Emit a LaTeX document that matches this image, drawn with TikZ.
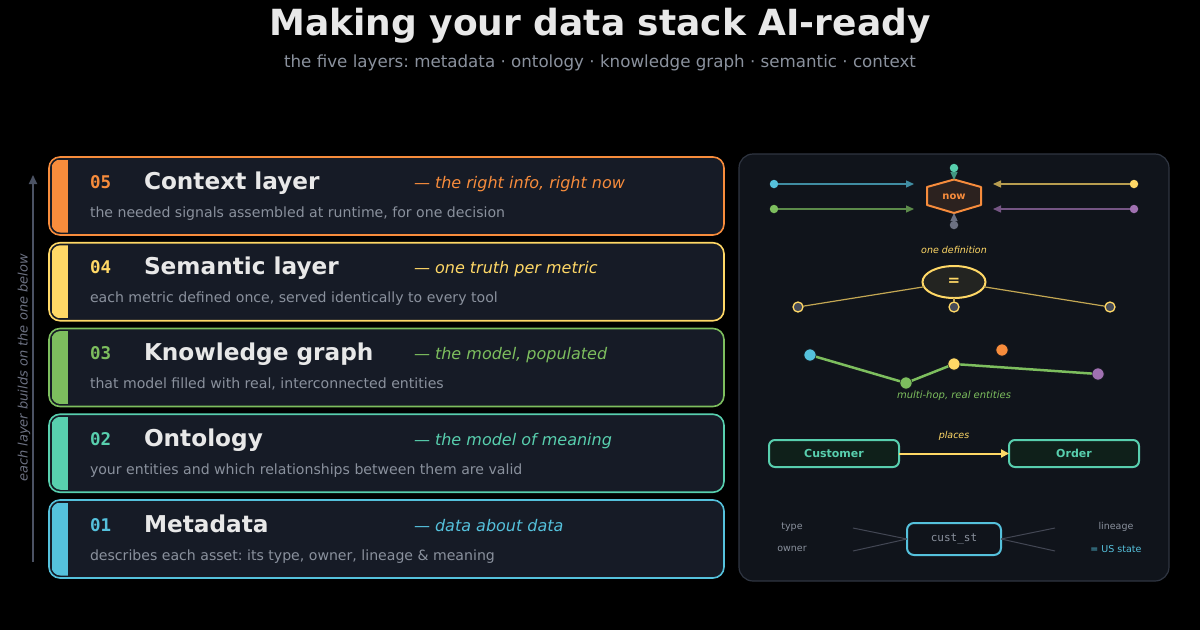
\documentclass[tikz,border=0pt]{standalone}
\usepackage{xcolor}
\usepackage{fontspec}
\setmainfont{DejaVu Sans}
\setmonofont{DejaVu Sans Mono}
\usepackage{tikz}
\usetikzlibrary{arrows.meta,positioning,shapes.geometric}

\definecolor{bgcard}{HTML}{161B26}
\definecolor{bgpanel}{HTML}{10141B}
\definecolor{edgepanel}{HTML}{2F3541}
\definecolor{txtmain}{HTML}{E8E8E8}
\definecolor{txtdim}{HTML}{8A919D}
\definecolor{axisgrey}{HTML}{4B5263}
\definecolor{boxteal}{HTML}{0F201A}
\definecolor{cOrange}{HTML}{F78C3C}
\definecolor{cYellow}{HTML}{FFD866}
\definecolor{cGreen}{HTML}{7DBE5E}
\definecolor{cTeal}{HTML}{58CFAE}
\definecolor{cBlue}{HTML}{55C1DC}
\definecolor{cPurple}{HTML}{A071B1}
\definecolor{cGrey}{HTML}{6C7182}

\newcommand{\pxsize}[1]{\fontsize{#1}{#1}\selectfont}
\frenchspacing

\begin{document}
\begin{tikzpicture}[x=1pt, y=-1pt,
  every node/.style={inner sep=0pt, outer sep=0pt},
  card/.style={rectangle, rounded corners=11pt, fill=bgcard, line width=1.6pt,
    minimum width=675pt, minimum height=78pt},
  numtxt/.style={anchor=base west, font=\ttfamily\bfseries\pxsize{17.5}},
  ttltxt/.style={anchor=base west, font=\bfseries\pxsize{23.2}, text=txtmain},
  tagtxt/.style={anchor=base west, font=\itshape\pxsize{16}},
  desctxt/.style={anchor=base west, font=\pxsize{14.1}, text=txtdim},
  dot/.style={circle, minimum size=8.5pt},
  kgdot/.style={circle, minimum size=12.5pt, draw=bgpanel, line width=1pt},
  feed/.style={line width=1.3pt, -{Triangle[length=8pt,width=7pt]}},
  small/.style={font=\itshape\pxsize{9.5}}]

  % background
  \fill[black] (0,0) rectangle (1200,630);
  \useasboundingbox (0,0) rectangle (1200,630);

  % title
  \node[anchor=base, font=\bfseries\pxsize{36}, text=txtmain] (title) at (600,35.5)
    {Making your data stack AI-ready};
  \node[anchor=base, font=\pxsize{16.7}, text=txtdim] (subtitle) at (600,67)
    {the five layers: metadata · ontology · knowledge graph · semantic · context};

  % layer cards
  \foreach \num/\ttl/\tagline/\desc/\col [count=\i from 0] in {
    05/Context layer/{the right info, right now}/{the needed signals assembled at runtime, for one decision}/cOrange,
    04/Semantic layer/one truth per metric/{each metric defined once, served identically to every tool}/cYellow,
    03/Knowledge graph/{the model, populated}/{that model filled with real, interconnected entities}/cGreen,
    02/Ontology/the model of meaning/your entities and which relationships between them are valid/cTeal,
    01/Metadata/data about data/{describes each asset: its type, owner, lineage \& meaning}/cBlue}{
    \pgfmathsetmacro\cardtop{157+85.75*\i}
    \node[card, draw=\col] (card\num) at (386.5,\cardtop+39) {};
    \begin{scope}
      \clip[rounded corners=9pt] (51.5,\cardtop+2.5) rectangle (724,\cardtop+75.5);
      \fill[\col] (51.5,\cardtop+2.5) rectangle (68,\cardtop+75.5);
    \end{scope}
    \node[numtxt, text=\col] (num\num) at (90,\cardtop+31) {\num};
    \node[ttltxt] (ttl\num) at (144,\cardtop+32) {\ttl};
    \node[tagtxt, text=\col] (tag\num) at (414,\cardtop+31) {— \tagline};
    \node[desctxt] (desc\num) at (90,\cardtop+60) {\desc};
  }

  % build-up axis
  \coordinate (axbot) at (33,562);
  \coordinate (axtop) at (33,175);
  \draw[axisgrey, line width=2pt, -{Triangle[length=9pt,width=8pt]}] (axbot) -- (axtop);
  \node[rotate=90, font=\itshape\pxsize{13}, text=cGrey] (axlabel) at (24,368)
    {each layer builds on the one below};

  % right panel
  \node[rectangle, rounded corners=14pt, fill=bgpanel, draw=edgepanel, line width=1.2pt,
    minimum width=430pt, minimum height=427pt] (panel) at (954,367.5) {};

  % context: signals into "now"
  \fill[fill=cOrange!12!bgpanel] (954,179.5) -- (981,187) -- (981,205) -- (954,213)
    -- (927,205) -- (927,187) -- cycle;
  \draw[cOrange, line width=2pt, line join=round] (954,179.5) -- (981,187) -- (981,205)
    -- (954,213) -- (927,205) -- (927,187) -- cycle;
  \node[font=\bfseries\pxsize{10}, text=cOrange] (now) at (954,196.5) {now};
  \node[dot, fill=cBlue] (sa) at (774,184) {};
  \node[dot, fill=cGreen] (sb) at (774,209) {};
  \node[dot, fill=cYellow] (sc) at (1134,184) {};
  \node[dot, fill=cPurple] (sd) at (1134,209) {};
  \node[dot, fill=cTeal] (se) at (954,168) {};
  \node[dot, fill=cGrey] (sf) at (954,225) {};
  \coordinate (ina) at (914,184);
  \coordinate (inb) at (914,209);
  \coordinate (inc) at (993,184);
  \coordinate (ind) at (993,209);
  \coordinate (ine) at (954,180);
  \coordinate (inf) at (954,213);
  \draw[feed, cBlue!70!bgpanel] (sa) -- (ina);
  \draw[feed, cGreen!70!bgpanel] (sb) -- (inb);
  \draw[feed, cYellow!70!bgpanel] (sc) -- (inc);
  \draw[feed, cPurple!70!bgpanel] (sd) -- (ind);
  \draw[feed, cTeal!70!bgpanel] (se) -- (ine);
  \draw[feed, cGrey] (sf) -- (inf);

  % semantic: one definition
  \node[small, text=cYellow] (onedef) at (954,250) {one definition};
  \node[ellipse, draw=cYellow, line width=2pt, fill=cYellow!8!bgpanel,
    minimum width=63pt, minimum height=32pt, font=\bfseries\pxsize{15}, text=cYellow]
    (eq) at (954,282) {=};
  \node[circle, minimum size=10pt, draw=cYellow, line width=1.3pt, fill=cGrey!60!bgpanel]
    (m1) at (798,307) {};
  \node[circle, minimum size=10pt, draw=cYellow, line width=1.3pt, fill=cGrey!60!bgpanel]
    (m2) at (954,307) {};
  \node[circle, minimum size=10pt, draw=cYellow, line width=1.3pt, fill=cGrey!60!bgpanel]
    (m3) at (1110,307) {};
  \draw[cYellow!75!bgpanel, line width=1.2pt] (eq) -- (m1);
  \draw[cYellow!75!bgpanel, line width=1.2pt] (eq) -- (m2);
  \draw[cYellow!75!bgpanel, line width=1.2pt] (eq) -- (m3);

  % knowledge graph
  \node[kgdot, fill=cBlue] (kb) at (810,355) {};
  \node[kgdot, fill=cGreen] (kg) at (906,383) {};
  \node[kgdot, fill=cYellow] (ky) at (954,364) {};
  \node[kgdot, fill=cOrange] (ko) at (1002,350) {};
  \node[kgdot, fill=cPurple] (kp) at (1098,374) {};
  \draw[cGreen, line width=2.5pt] (kb) -- (kg);
  \draw[cGreen, line width=2.5pt] (kg) -- (ky);
  \draw[cGreen, line width=2.5pt] (ky) -- (kp);
  \node[small, font=\itshape\pxsize{10}, text=cGreen] (hop) at (954,396) {multi-hop, real entities};

  % ontology
  \node[rectangle, rounded corners=6pt, draw=cTeal, line width=2pt, fill=boxteal,
    minimum width=130pt, minimum height=27pt, font=\bfseries\pxsize{11}, text=cTeal]
    (cust) at (834,453.5) {Customer};
  \node[rectangle, rounded corners=6pt, draw=cTeal, line width=2pt, fill=boxteal,
    minimum width=130pt, minimum height=27pt, font=\bfseries\pxsize{11}, text=cTeal]
    (order) at (1074,453.5) {Order};
  \draw[cYellow, line width=2pt, -{Triangle[length=8pt,width=8pt]}] (cust) --
    node[above=13pt, small, text=cYellow] (places) {places} (order);

  % metadata
  \node[rectangle, rounded corners=7pt, draw=cBlue, line width=2pt, fill=bgpanel,
    minimum width=94pt, minimum height=32pt, font=\ttfamily\pxsize{11}, text=txtdim]
    (asset) at (954,539) {cust\_st};
  \node[font=\pxsize{9.5}, text=txtdim] (mtype) at (792,527) {type};
  \node[font=\pxsize{9.5}, text=txtdim] (mowner) at (792,549) {owner};
  \node[font=\pxsize{9.5}, text=txtdim] (mlin) at (1116,527) {lineage};
  \node[font=\pxsize{9.5}, text=cBlue] (mmean) at (1116,549) {= US state};
  \coordinate (la) at (853,528);
  \coordinate (lb) at (853,551);
  \coordinate (ra) at (1055,528);
  \coordinate (rb) at (1055,551);
  \draw[cGrey!55!bgpanel, line width=1pt] (la) -- (asset.west);
  \draw[cGrey!55!bgpanel, line width=1pt] (lb) -- (asset.west);
  \draw[cGrey!55!bgpanel, line width=1pt] (ra) -- (asset.east);
  \draw[cGrey!55!bgpanel, line width=1pt] (rb) -- (asset.east);
\end{tikzpicture}
\end{document}
